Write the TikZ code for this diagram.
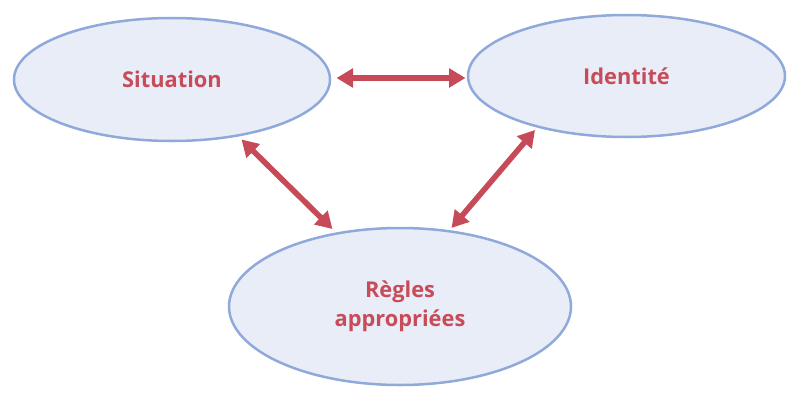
\documentclass[tikz,border=0pt]{standalone}
\usepackage{fontspec}
\setmainfont{Open Sans}
\usetikzlibrary{arrows.meta,shapes.geometric}
\definecolor{efill}{RGB}{233,237,247}
\definecolor{edraw}{RGB}{143,169,219}
\definecolor{tred}{RGB}{200,75,90}
\definecolor{ared}{RGB}{199,74,88}
\tikzset{
  bubble/.style={ellipse, draw=edraw, fill=efill, line width=2.5pt, inner sep=0pt,
    font=\fontsize{21.8}{29.5}\selectfont\bfseries, text=tred, align=center},
  link/.style={draw=ared, line width=5.6pt, {Triangle[length=16.5pt,width=18.5pt]}-{Triangle[length=16.5pt,width=18.5pt]}}
}
\begin{document}
\begin{tikzpicture}[x=1pt,y=1pt]
\useasboundingbox (0,0) rectangle (800,400);
\node[bubble, minimum width=316pt, minimum height=123pt] (s) at (172,320.5) {Situation};
\node[bubble, minimum width=317pt, minimum height=122pt] (i) at (626.5,324) {Identité};
\node[bubble, minimum width=342pt, minimum height=157pt] (r) at (400,93.5) {Règles\\appropriées};
\coordinate (a1) at (336.5,322);
\coordinate (a2) at (465.5,322);
\coordinate (b1) at (241.5,260.5);
\coordinate (b2) at (332.5,171);
\coordinate (c1) at (535,270);
\coordinate (c2) at (451.5,172);
\draw[link] (a1) -- (a2);
\draw[link] (b1) -- (b2);
\draw[link] (c1) -- (c2);
\end{tikzpicture}
\end{document}
